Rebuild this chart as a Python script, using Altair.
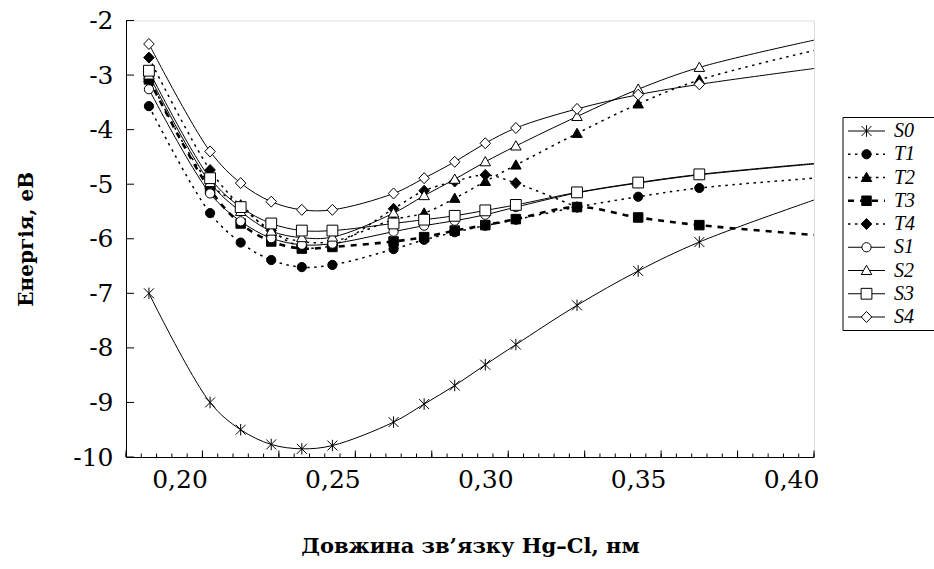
import altair as alt
import pandas as pd

# ---------------- data ----------------
X = [0.19, 0.21, 0.22, 0.23, 0.24, 0.25, 0.27, 0.28, 0.29, 0.30, 0.31, 0.33, 0.35, 0.37]
X_EDGE = 0.4075  # curves continue (without markers) to the right edge of the plot

S0 = [-7.00, -9.00, -9.50, -9.77, -9.85, -9.79, -9.36, -9.03, -8.69, -8.31, -7.94, -7.22, -6.59, -6.06]
T1 = [-3.57, -5.53, -6.07, -6.39, -6.52, -6.48, -6.19, -6.02, -5.88, -5.76, -5.65, -5.42, -5.23, -5.07]
T2 = [-3.05, -5.00, -5.38, -5.88, -6.05, -6.05, -5.65, -5.53, -5.26, -4.95, -4.65, -4.07, -3.53, -3.09]
T3 = [-3.08, -5.10, -5.72, -6.05, -6.18, -6.15, -6.05, -5.97, -5.85, -5.75, -5.64, -5.42, -5.61, -5.75]
T4 = [-2.68, -4.74, -5.40, -5.85, -6.15, -6.12, -5.45, -5.12, -4.95, -4.83, -4.98, -5.42]
S1 = [-3.26, -5.17, -5.68, -5.99, -6.11, -6.09, -5.87, -5.76, -5.67, -5.56, -5.42, -5.16, -4.98, -4.83]
S2 = [-3.00, -4.97, -5.50, -5.86, -5.98, -5.97, -5.53, -5.21, -4.91, -4.59, -4.30, -3.76, -3.26, -2.86]
S3 = [-2.92, -4.89, -5.42, -5.72, -5.85, -5.85, -5.72, -5.65, -5.58, -5.48, -5.38, -5.15, -4.97, -4.82]
S4 = [-2.43, -4.40, -4.98, -5.32, -5.47, -5.47, -5.17, -4.89, -4.59, -4.25, -3.97, -3.62, -3.36, -3.17]

EDGE = {"S0": -5.29, "T1": -4.89, "T2": -2.55, "T3": -5.93,
        "S1": -4.63, "S2": -2.36, "S3": -4.62, "S4": -2.88}

SERIES = ["S0", "T1", "T2", "T3", "T4", "S1", "S2", "S3", "S4"]
VALUES = {"S0": S0, "T1": T1, "T2": T2, "T3": T3, "T4": T4,
          "S1": S1, "S2": S2, "S3": S3, "S4": S4}
SOLID = ["S0", "S1", "S2", "S3", "S4"]
DOTTED = ["T1", "T2", "T4"]
DASHED = ["T3"]

X_LABELS = [0.20, 0.25, 0.30, 0.35, 0.40]
Y_TICKS = [-2, -3, -4, -5, -6, -7, -8, -9, -10]
X_MINOR = [round(0.1825 + 0.005 * k, 4) for k in range(46)]
X_MAJOR = X_MINOR[::5]

# ---------------- tables ----------------
rows = []
for s in SERIES:
    for x, y in zip(X, VALUES[s]):
        rows.append({"series": s, "x": x, "y": y, "marker": 1})
    if s in EDGE:
        rows.append({"series": s, "x": X_EDGE, "y": EDGE[s], "marker": 0})
df = pd.DataFrame(rows)

leg_rows = []
for i, s in enumerate(SERIES):
    for lx in (0.0, 1.0):
        leg_rows.append({"series": s, "idx": i, "lx": lx, "kind": "line"})
    leg_rows.append({"series": s, "idx": i, "lx": 0.5, "kind": "mark"})
    leg_rows.append({"series": s, "idx": i, "lx": 1.0, "kind": "text"})
leg = pd.DataFrame(leg_rows)

# ---------------- style ----------------
W, H = 688, 436.5
FONT = "DejaVu Serif"

ASTER = "M-1,-1L1,1M-1,1L1,-1M0,-1.15L0,1.15"
CIRC = "M0.92,0A0.92,0.92,0,1,1,-0.92,0A0.92,0.92,0,1,1,0.92,0Z"
TRI = "M0,-1.05L1.05,0.8L-1.05,0.8Z"
SQ = "M-0.95,-0.95H0.95V0.95H-0.95Z"
SQ_BIG = "M-1.08,-1.08H1.08V1.08H-1.08Z"
DIA = "M0,-1.1L1.05,0L0,1.1L-1.05,0Z"
SHAPES = [ASTER, CIRC, TRI, SQ, DIA, CIRC, TRI, SQ_BIG, DIA]
FILLS = ["transparent", "black", "black", "black", "black", "white", "white", "white", "white"]

shape_enc = alt.Shape("series:N", scale=alt.Scale(domain=SERIES, range=SHAPES), legend=None)
fill_enc = alt.Fill("series:N", scale=alt.Scale(domain=SERIES, range=FILLS), legend=None)

x_scale = alt.Scale(domain=[0.1825, 0.4075], nice=False, zero=False)
y_scale = alt.Scale(domain=[-10, -2], nice=False, zero=False)

x_axis = alt.Axis(
    values=X_LABELS,
    labelExpr="replace(format(datum.value, '.2f'), '.', ',')",
    ticks=False, grid=False, domainColor="black", domainWidth=1,
    labelFont=FONT, labelFontSize=25, labelColor="black", labelPadding=10,
    labelOverlap=False, labelFlush=False,
    title="Довжина зв’язку Hg–Cl, нм", titleFont=FONT, titleFontSize=21,
    titleFontWeight="bold", titleColor="black", titlePadding=43,
)
y_axis = alt.Axis(
    values=Y_TICKS,
    labelExpr="datum.value < 0 ? '-' + format(-datum.value, 'd') : format(datum.value, 'd')",
    ticks=False, grid=False, domainColor="black", domainWidth=1,
    labelFont=FONT, labelFontSize=25, labelColor="black", labelPadding=13,
    labelOverlap=False, labelFlush=False,
    title="Енергія, еВ", titleFont=FONT, titleFontSize=20,
    titleFontWeight="bold", titleColor="black", titlePadding=36,
)

X_ENC = alt.X("x:Q", scale=x_scale, axis=x_axis)
Y_ENC = alt.Y("y:Q", scale=y_scale, axis=y_axis)

base = alt.Chart(df)

solid = base.transform_filter(
    alt.FieldOneOfPredicate(field="series", oneOf=SOLID)
).mark_line(interpolate="catmull-rom", color="black", strokeWidth=1, clip=True).encode(
    x=X_ENC, y=Y_ENC, detail="series:N", order="x:Q")

dotted = base.transform_filter(
    alt.FieldOneOfPredicate(field="series", oneOf=DOTTED)
).mark_line(interpolate="catmull-rom", color="black", strokeWidth=1.5,
            strokeDash=[2.5, 4.5], clip=True).encode(
    x=X_ENC, y=Y_ENC, detail="series:N", order="x:Q")

dashed = base.transform_filter(
    alt.FieldOneOfPredicate(field="series", oneOf=DASHED)
).mark_line(interpolate="catmull-rom", color="black", strokeWidth=2.6,
            strokeDash=[6, 6], clip=True).encode(
    x=X_ENC, y=Y_ENC, detail="series:N", order="x:Q")

points = base.transform_filter("datum.marker == 1").mark_point(
    filled=True, stroke="black", strokeWidth=1, size=100, opacity=1
).encode(x=X_ENC, y=Y_ENC, shape=shape_enc, fill=fill_enc)

minor_ticks = alt.Chart(pd.DataFrame({"x": X_MINOR})).mark_rule(
    color="black", strokeWidth=1).encode(
    x=X_ENC, y=alt.value(H), y2=alt.value(H - 3.5))
major_ticks = alt.Chart(pd.DataFrame({"x": X_MAJOR})).mark_rule(
    color="black", strokeWidth=1).encode(
    x=X_ENC, y=alt.value(H), y2=alt.value(H - 6.5))
y_ticks = alt.Chart(pd.DataFrame({"y": Y_TICKS})).mark_rule(
    color="black", strokeWidth=1).encode(
    y=Y_ENC, x=alt.value(0), x2=alt.value(8))

main = alt.layer(solid, dotted, dashed, points, minor_ticks, major_ticks, y_ticks)

# ---------------- legend (own scales, outside the plot) ----------------
LX = alt.Scale(domain=[0, 1], range=[722, 759])
LY = alt.Scale(domain=[0, 8], range=[110.5, 296.5])
lbase = alt.Chart(leg)
LXE = alt.X("lx:Q", scale=LX, axis=None)
LYE = alt.Y("idx:Q", scale=LY, axis=None)

leg_box = alt.Chart(pd.DataFrame({"a": [0]})).mark_rect(
    fill="white", stroke="black", strokeWidth=1).encode(
    x=alt.value(717), x2=alt.value(830), y=alt.value(97), y2=alt.value(310))

leg_solid = lbase.transform_filter("datum.kind == 'line'").transform_filter(
    alt.FieldOneOfPredicate(field="series", oneOf=SOLID)
).mark_line(color="black", strokeWidth=1).encode(x=LXE, y=LYE, detail="series:N")
leg_dot = lbase.transform_filter("datum.kind == 'line'").transform_filter(
    alt.FieldOneOfPredicate(field="series", oneOf=DOTTED)
).mark_line(color="black", strokeWidth=1.5, strokeDash=[2.5, 4.5]).encode(
    x=LXE, y=LYE, detail="series:N")
leg_dash = lbase.transform_filter("datum.kind == 'line'").transform_filter(
    alt.FieldOneOfPredicate(field="series", oneOf=DASHED)
).mark_line(color="black", strokeWidth=2.6, strokeDash=[6, 6]).encode(
    x=LXE, y=LYE, detail="series:N")
leg_pts = lbase.transform_filter("datum.kind == 'mark'").mark_point(
    filled=True, stroke="black", strokeWidth=1, size=100, opacity=1
).encode(x=LXE, y=LYE, shape=shape_enc, fill=fill_enc)
leg_txt = lbase.transform_filter("datum.kind == 'text'").mark_text(
    align="left", baseline="middle", dx=9, font="Liberation Serif",
    fontStyle="italic", fontSize=20, color="black"
).encode(x=LXE, y=LYE, text="series:N")

legend = alt.layer(leg_box, leg_solid, leg_dot, leg_dash, leg_pts, leg_txt)

chart = alt.layer(main, legend).resolve_scale(
    x="independent", y="independent"
).properties(
    width=W, height=H,
    autosize=alt.AutoSizeParams(type="none"),
    padding={"left": 126, "top": 20.5, "right": 120, "bottom": 112},
).configure_view(stroke="#808080", strokeWidth=1).configure(background="white")

chart.save("out.html", embed_options={"renderer": "svg", "actions": False})
